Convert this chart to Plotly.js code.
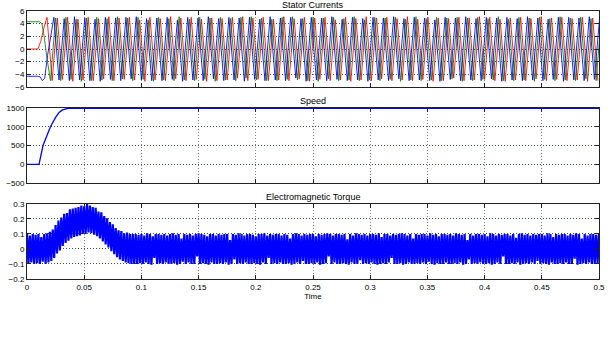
<!DOCTYPE html>
<html>
<head>
<meta charset="utf-8">
<script src="https://cdn.plot.ly/plotly-3.0.1.min.js"></script>
<style>html,body{margin:0;padding:0;background:#fff;}#chart{width:614px;height:362px;}</style>
</head>
<body>
<div id="chart"></div>
<script>
// ---- Stator currents: start-up transient (time, value) ----
const iaStartT = [0, 0.0095, 0.012, 0.015, 0.0175];
const iaStartV = [0, 0, 1.2, 3.5, 5.0];
const ibStartT = [0, 0.011, 0.013, 0.015, 0.0175, 0.0205];
const ibStartV = [4.3, 4.3, 4.0, 2.0, -1.5, -5.0];
const icStartT = [0, 0.009, 0.0115, 0.0135, 0.0155, 0.018];
const icStartV = [-4.3, -4.3, -4.4, -5.0, -4.6, -1.0];

// ---- Stator currents: steady-state peak samples (one every half period) ----
const sampleStep = 0.0045;
const iaSteadyStart = 0.022, icSteadyStart = 0.0235, ibSteadyStart = 0.025;
const iaPeaks = [
-5.0,4.9,-4.8,5.0,-5.1,4.7,-4.9,5.0,-5.0,4.8,
-4.7,5.1,-5.0,4.9,-4.8,5.0,-4.9,4.6,-5.1,5.0,
-4.9,4.8,-5.0,5.1,-4.7,4.9,-5.0,5.0,-4.8,4.7,
-5.1,4.9,-5.0,4.8,-4.9,5.0,-4.6,5.1,-5.0,4.9,
-4.8,5.0,-5.0,4.7,-4.9,5.1,-5.0,4.8,-4.7,5.0,
-5.1,4.9,-4.8,5.0,-5.0,4.6,-4.9,5.0,-5.1,4.8,
-4.9,5.1,-5.0,4.9,-4.7,5.0,-5.0,4.8,-4.9,5.1,
-5.0,4.7,-4.8,5.0,-5.1,4.9,-5.0,4.8,-4.6,5.0,
-5.0,4.9,-4.9,5.1,-4.8,5.0,-5.0,4.7,-5.1,4.9,
-4.9,5.0,-5.0,4.8,-4.7,5.1,-5.0,4.9,-4.8,5.0,
-5.0,4.8,-4.9,5.0,-5.1,4.9,-5.0];
const ibPeaks = [
4.9,-5.0,5.0,-4.8,4.7,-5.1,4.9,-5.0,5.0,-4.9,
4.8,-5.0,5.1,-4.7,4.9,-5.0,5.0,-4.8,4.6,-5.1,
5.0,-4.9,4.8,-5.0,5.1,-4.9,4.7,-5.0,5.0,-4.8,
4.9,-5.1,5.0,-4.9,4.8,-5.0,5.0,-4.6,5.1,-4.9,
4.9,-5.0,4.7,-5.0,5.0,-4.8,5.1,-4.9,4.8,-5.0,
5.0,-5.1,4.9,-4.7,5.0,-5.0,4.8,-4.9,5.1,-5.0,
4.6,-4.9,5.0,-5.0,4.9,-4.8,5.0,-5.1,4.7,-4.9,
5.1,-5.0,4.8,-4.9,5.0,-5.0,4.9,-4.7,5.0,-5.1,
4.9,-5.0,5.0,-4.8,4.8,-4.9,5.1,-5.0,4.7,-5.0,
5.0,-4.9,4.9,-5.1,5.0,-4.8,4.8,-5.0,5.1,-4.9,
4.9,-5.0,5.0,-4.7,4.8,-5.0,5.0];
const icPeaks = [
5.0,-4.9,4.8,-5.0,5.1,-4.9,4.9,-5.0,4.7,-5.1,
5.0,-4.8,4.9,-5.0,5.0,-4.7,5.1,-4.9,4.8,-5.0,
4.9,-5.0,5.0,-4.8,4.6,-5.1,5.0,-4.9,4.9,-5.0,
5.1,-4.7,4.8,-5.0,5.0,-4.9,4.9,-5.1,5.0,-4.8,
4.7,-5.0,5.1,-4.9,4.9,-5.0,5.0,-4.6,4.8,-5.1,
5.0,-4.9,4.9,-5.0,5.1,-4.8,4.7,-5.0,5.0,-4.9,
4.8,-5.1,5.0,-4.9,4.9,-5.0,5.1,-4.7,4.8,-5.0,
5.0,-4.9,4.9,-5.0,4.6,-5.1,5.0,-4.8,4.9,-5.0,
5.1,-4.9,4.8,-5.0,5.0,-4.7,4.9,-5.1,5.0,-4.9,
4.8,-5.0,5.1,-4.9,4.9,-5.0,4.7,-4.8,5.0,-5.1,
5.0,-4.9,4.9,-5.0,5.1,-4.8,4.9];

// ---- Speed ----
const speedT = [0, 0.0105, 0.014, 0.0205, 0.025, 0.028, 0.031, 0.034, 0.036, 0.1, 0.2, 0.3, 0.4, 0.5];
const speedV = [0, 0, 500, 1000, 1250, 1380, 1450, 1485, 1492, 1492, 1490, 1492, 1491, 1492];

// ---- Electromagnetic torque: ripple crests and troughs, one pair every 2.5 ms ----
const torqueStep = 0.0025;
const torqueCrests = [
0.10,0.09,0.10,0.095,0.10,0.08,0.10,0.105,
0.115,0.13,0.16,0.19,0.21,0.235,0.24,0.265,0.27,0.275,
0.28,0.29,0.285,0.30,0.29,0.28,0.275,0.25,0.245,0.22,
0.205,0.18,0.165,0.14,0.125,0.12,0.105,0.11,0.10,0.10,
0.10,0.095,0.10,0.09,0.105,0.10,0.085,0.10,0.10,0.095,
0.10,0.09,0.10,0.105,0.095,0.10,0.07,0.10,0.095,0.10,
0.09,0.10,0.105,0.10,0.095,0.085,0.10,0.10,0.09,0.10,
0.095,0.10,0.10,0.06,0.10,0.095,0.105,0.10,0.09,0.10,
0.10,0.095,0.085,0.10,0.10,0.105,0.09,0.10,0.095,0.10,
0.10,0.09,0.10,0.095,0.07,0.10,0.105,0.10,0.09,0.10,
0.095,0.10,0.10,0.085,0.10,0.095,0.10,0.105,0.10,0.09,
0.10,0.10,0.095,0.10,0.065,0.10,0.09,0.105,0.10,0.095,
0.10,0.09,0.10,0.10,0.095,0.105,0.08,0.10,0.10,0.09,
0.10,0.095,0.10,0.105,0.10,0.09,0.10,0.07,0.10,0.095,
0.10,0.10,0.09,0.105,0.095,0.10,0.085,0.10,0.10,0.095,
0.10,0.09,0.105,0.10,0.095,0.10,0.06,0.10,0.09,0.10,
0.10,0.095,0.10,0.085,0.105,0.10,0.09,0.10,0.095,0.10,
0.10,0.09,0.10,0.075,0.10,0.105,0.095,0.10,0.09,0.10,
0.095,0.10,0.10,0.09,0.105,0.10,0.08,0.10,0.095,0.10,
0.10,0.09,0.10,0.095,0.105,0.10,0.07,0.10,0.09,0.10,
0.10,0.095,0.10];
const torqueTroughs = [
-0.10,-0.09,-0.10,-0.095,-0.10,-0.085,-0.10,-0.09,
-0.08,-0.06,-0.03,-0.01,0.02,0.04,0.055,0.07,0.08,0.085,
0.09,0.10,0.10,0.11,0.105,0.095,0.085,0.07,0.05,0.03,
0.01,-0.015,-0.035,-0.055,-0.07,-0.08,-0.09,-0.095,-0.10,-0.10,
-0.10,-0.095,-0.10,-0.09,-0.10,-0.105,-0.06,-0.10,-0.095,-0.10,
-0.09,-0.10,-0.10,-0.095,-0.105,-0.10,-0.085,-0.10,-0.09,-0.10,
-0.10,-0.05,-0.10,-0.095,-0.10,-0.105,-0.09,-0.10,-0.10,-0.095,
-0.10,-0.09,-0.105,-0.10,-0.07,-0.10,-0.095,-0.10,-0.09,-0.10,
-0.10,-0.095,-0.10,-0.105,-0.09,-0.10,-0.06,-0.10,-0.095,-0.10,
-0.09,-0.10,-0.10,-0.095,-0.105,-0.10,-0.09,-0.10,-0.08,-0.10,
-0.10,-0.095,-0.10,-0.09,-0.105,-0.10,-0.095,-0.05,-0.10,-0.09,
-0.10,-0.10,-0.095,-0.10,-0.105,-0.09,-0.10,-0.10,-0.075,-0.10,
-0.095,-0.10,-0.09,-0.10,-0.105,-0.10,-0.095,-0.10,-0.09,-0.06,
-0.10,-0.10,-0.095,-0.105,-0.10,-0.09,-0.10,-0.10,-0.095,-0.10,
-0.09,-0.10,-0.085,-0.10,-0.105,-0.095,-0.10,-0.10,-0.09,-0.10,
-0.10,-0.095,-0.10,-0.09,-0.105,-0.10,-0.07,-0.10,-0.095,-0.10,
-0.09,-0.10,-0.10,-0.095,-0.105,-0.10,-0.09,-0.10,-0.05,-0.10,
-0.10,-0.095,-0.10,-0.09,-0.105,-0.10,-0.095,-0.10,-0.09,-0.10,
-0.08,-0.10,-0.095,-0.10,-0.105,-0.09,-0.10,-0.10,-0.095,-0.10,
-0.09,-0.10,-0.10,-0.065,-0.105,-0.10,-0.095,-0.10,-0.09,-0.10,
-0.10,-0.095,-0.10];

// ---- Tick labels / titles ----
const timeTicks = [0, 0.05, 0.1, 0.15, 0.2, 0.25, 0.3, 0.35, 0.4, 0.45, 0.5];
const currentTicks = [-6, -4, -2, 0, 2, 4, 6];
const speedTicks = [-500, 0, 500, 1000, 1500];
const torqueTicks = [-0.2, -0.1, 0, 0.1, 0.2, 0.3];
const panelTitles = ['Stator Currents', 'Speed', 'Electromagnetic Torque'];
const xLabel = 'Time';

// ---- build series ----
function phaseSeries(startT, startV, t0, peaks) {
  const x = startT.slice(), y = startV.slice();
  peaks.forEach((v, k) => { x.push(t0 + k * sampleStep); y.push(v); });
  return {x, y};
}
const ia = phaseSeries(iaStartT, iaStartV, iaSteadyStart, iaPeaks);
const ib = phaseSeries(ibStartT, ibStartV, ibSteadyStart, ibPeaks);
const ic = phaseSeries(icStartT, icStartV, icSteadyStart, icPeaks);

const tqX = [], tqY = [];
torqueCrests.forEach((v, k) => {
  tqX.push(k * torqueStep); tqY.push(v);
  tqX.push(k * torqueStep + torqueStep / 2); tqY.push(torqueTroughs[k]);
});

const FONT = 'Liberation Sans, Arial, sans-serif';
const data = [
  {x: ia.x, y: ia.y, xaxis: 'x', yaxis: 'y', mode: 'lines', opacity: 0.85, line: {color: '#ff0000', width: 1, simplify: false}},
  {x: ib.x, y: ib.y, xaxis: 'x', yaxis: 'y', mode: 'lines', opacity: 0.85, line: {color: '#008000', width: 1, simplify: false}},
  {x: ic.x, y: ic.y, xaxis: 'x', yaxis: 'y', mode: 'lines', opacity: 0.85, line: {color: '#0000ff', width: 1, simplify: false}},
  {x: speedT, y: speedV, xaxis: 'x2', yaxis: 'y2', mode: 'lines', line: {color: '#0000ff', width: 1.3}},
  {x: tqX, y: tqY, xaxis: 'x3', yaxis: 'y3', mode: 'lines', line: {color: '#0000ff', width: 2.2, simplify: false}}
];

function xAx(anchor, labels) {
  return {
    domain: [0, 1], anchor: anchor, range: [0, 0.5], tickvals: timeTicks,
    showticklabels: labels, ticks: 'inside', ticklen: 4, tickcolor: '#222',
    showline: true, linecolor: '#222', linewidth: 1, mirror: 'ticks',
    showgrid: true, gridcolor: '#8f7f8f', griddash: '1px,2px', gridwidth: 1,
    zeroline: false, tickfont: {size: 8, color: '#000', family: FONT}
  };
}
function yAx(anchor, dom, range, ticks) {
  return {
    domain: dom, anchor: anchor, range: range, tickvals: ticks,
    ticks: 'inside', ticklen: 4, tickcolor: '#222',
    showline: true, linecolor: '#222', linewidth: 1, mirror: 'ticks',
    showgrid: true, gridcolor: '#3f5a3f', griddash: '1px,2px', gridwidth: 1,
    zeroline: false, tickfont: {size: 8, color: '#000', family: FONT}
  };
}
const x3 = xAx('y3', true);
x3.title = {text: xLabel, font: {size: 8, color: '#000', family: FONT}, standoff: 2};

const layout = {
  width: 614, height: 362,
  margin: {l: 27, r: 15, t: 11, b: 83},
  paper_bgcolor: '#fff', plot_bgcolor: '#fff',
  showlegend: false,
  font: {family: FONT, size: 8, color: '#000'},
  xaxis: xAx('y', false), xaxis2: xAx('y2', false), xaxis3: x3,
  yaxis: yAx('x', [0.7164, 1], [-6, 6], currentTicks),
  yaxis2: yAx('x2', [0.358, 0.638], [-500, 1500], speedTicks),
  yaxis3: yAx('x3', [0, 0.28], [-0.2, 0.3], torqueTicks),
  annotations: [
    {text: panelTitles[0], xref: 'paper', yref: 'paper', x: 0.5, y: 1.022, showarrow: false, yanchor: 'middle', font: {size: 9, family: FONT, color: '#000'}},
    {text: panelTitles[1], xref: 'paper', yref: 'paper', x: 0.5, y: 0.664, showarrow: false, yanchor: 'middle', font: {size: 9, family: FONT, color: '#000'}},
    {text: panelTitles[2], xref: 'paper', yref: 'paper', x: 0.5, y: 0.306, showarrow: false, yanchor: 'middle', font: {size: 9, family: FONT, color: '#000'}}
  ]
};
Plotly.newPlot('chart', data, layout, {displayModeBar: false, staticPlot: true});
</script>
</body>
</html>
